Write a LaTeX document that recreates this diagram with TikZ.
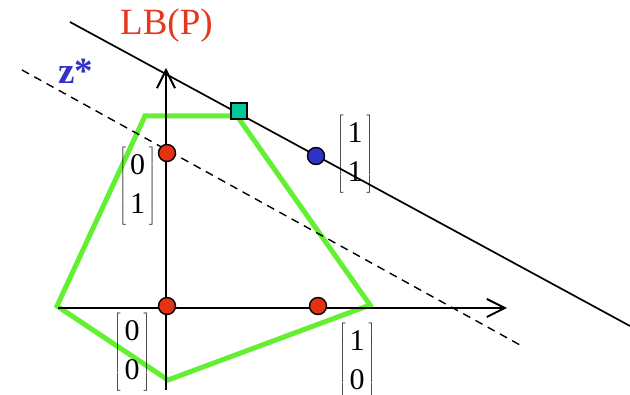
\documentclass[tikz,border=0pt]{standalone}
\usepackage{fontspec}
\setmainfont{Liberation Serif}
\usetikzlibrary{arrows.meta}
\definecolor{lbred}{RGB}{228,55,30}
\definecolor{zblue}{RGB}{50,50,200}
\definecolor{pgreen}{RGB}{100,240,50}
\definecolor{sqteal}{RGB}{0,200,150}
\definecolor{dotred}{RGB}{228,50,20}
\newcommand{\vecmat}[2]{$\left[\renewcommand{\arraystretch}{1.3}\begin{array}{@{\hspace{4pt}}c@{\hspace{4pt}}}\mbox{#1}\\\mbox{#2}\end{array}\right]$}
\begin{document}
\begin{tikzpicture}[x=1pt,y=-1pt,
  axis/.style={line width=2pt,-{Straight Barb[length=18pt,width=18pt,line width=2pt]}},
  poly/.style={pgreen,line width=5pt,line join=miter},
  dot/.style={circle,draw=black,line width=1.4pt,minimum size=17pt,inner sep=0pt},
  sq/.style={rectangle,draw=black,line width=1.4pt,fill=sqteal,minimum size=16pt,inner sep=0pt},
  mat/.style={inner sep=0pt,font=\fontsize{30}{30}\selectfont}]
\useasboundingbox (0,0) rectangle (630,395);
% polygon
\coordinate (p1) at (57,306);
\coordinate (p2) at (145,116);
\coordinate (p3) at (237,116);
\coordinate (p4) at (370,305);
\coordinate (p5) at (168,380);
\draw[poly] (p1) -- (p2) -- (p3) -- (p4) -- (p5) -- cycle;
% lines
\coordinate (d1) at (22,70);
\coordinate (d2) at (520,345);
\draw[line width=1.4pt,dash pattern=on 8pt off 6pt] (d1) -- (d2);
\coordinate (s1) at (70,22);
\coordinate (s2) at (630,326);
\draw[line width=1.7pt] (s1) -- (s2);
% axes
\coordinate (ax0) at (58,308);
\coordinate (ax1) at (507,308);
\coordinate (ay0) at (166,390);
\coordinate (ay1) at (166,68);
\draw[axis] (ax0) -- (ax1);
\draw[axis] (ay0) -- (ay1);
% points
\node[dot,fill=dotred] (r01) at (167,153) {};
\node[dot,fill=dotred] (r00) at (167,306) {};
\node[dot,fill=dotred] (r10) at (318,306) {};
\node[dot,fill=zblue] (b11) at (316,156) {};
\node[sq] (opt) at (239,111) {};
% labels
\node[mat] (m01) at (137.5,186.5) {\vecmat{0}{1}};
\node[mat] (m11) at (355,154) {\vecmat{1}{1}};
\node[mat] (m00) at (132,352) {\vecmat{0}{0}};
\node[mat] (m10) at (357,362) {\vecmat{1}{0}};
\node[anchor=base west,inner sep=0pt,text=lbred,font=\fontsize{37}{40}\selectfont] (lb) at (120,35) {LB(P)};
\node[anchor=base west,inner sep=0pt,text=zblue,font=\bfseries\fontsize{37}{40}\selectfont] (z) at (58,84) {z*};
\end{tikzpicture}
\end{document}
